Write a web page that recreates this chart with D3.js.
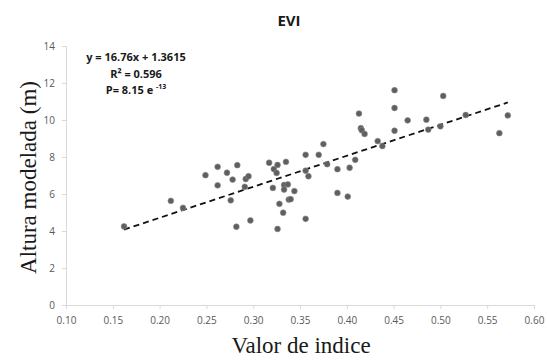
<!DOCTYPE html>
<html>
<head>
<meta charset="utf-8">
<script src="https://cdn.jsdelivr.net/npm/d3@7"></script>
<style>
  body { margin: 0; background: #fff; }
  svg { display: block; }
</style>
</head>
<body>
<svg id="chart" width="547" height="360"></svg>
<script>
// index values (x) and modelled height (y)
const indexValues = [0.162, 0.212, 0.225, 0.249, 0.262, 0.283, 0.272, 0.278, 0.262, 0.292,
  0.295, 0.291, 0.276, 0.282, 0.297, 0.317, 0.335, 0.326, 0.322, 0.325,
  0.321, 0.333, 0.337, 0.333, 0.344, 0.338, 0.340, 0.328, 0.332, 0.326,
  0.356, 0.356, 0.370, 0.375, 0.356, 0.359, 0.379, 0.390, 0.403, 0.409,
  0.390, 0.401, 0.413, 0.415, 0.416, 0.419, 0.433, 0.438, 0.451, 0.451,
  0.451, 0.465, 0.485, 0.487, 0.500, 0.503, 0.527, 0.572, 0.563];
const heights = [4.25, 5.63, 5.25, 7.02, 7.47, 7.56, 7.15, 6.78, 6.47, 6.81,
  6.96, 6.39, 5.66, 4.23, 4.57, 7.69, 7.74, 7.57, 7.35, 7.14,
  6.33, 6.49, 6.52, 6.24, 6.16, 5.70, 5.72, 5.47, 4.99, 4.11,
  4.66, 8.12, 8.12, 8.70, 7.26, 6.96, 7.61, 7.34, 7.42, 7.85,
  6.06, 5.86, 10.35, 9.56, 9.45, 9.25, 8.86, 8.59, 11.61, 10.65,
  9.42, 9.98, 10.02, 9.48, 9.66, 11.30, 10.27, 10.25, 9.29];

const xTicks = [0.10, 0.15, 0.20, 0.25, 0.30, 0.35, 0.40, 0.45, 0.50, 0.55, 0.60];
const yTicks = [0, 2, 4, 6, 8, 10, 12, 14];

const slope = 16.76, intercept = 1.3615;
const statLines = ["y = 16.76x + 1.3615", "R² = 0.596", "P= 8.15 e "];

const svg = d3.select("#chart");
const margin = { left: 66, right: 13, top: 46, bottom: 55 };
const width = 547, height = 360;

const x = d3.scaleLinear().domain([0.10, 0.60]).range([margin.left, width - margin.right]);
const y = d3.scaleLinear().domain([0, 14]).range([height - margin.bottom, margin.top]);

const axisColor = "#d9d9d9";
const labelColor = "#595959";

// x axis
const gx = svg.append("g")
  .attr("transform", "translate(0," + y(0) + ")")
  .call(d3.axisBottom(x).tickValues(xTicks).tickFormat(d3.format(".2f")).tickSize(4).tickPadding(8));
gx.select(".domain").attr("stroke", axisColor);
gx.selectAll(".tick line").attr("stroke", axisColor);
gx.selectAll("text").attr("fill", labelColor).style("font-family", "'Open Sans', sans-serif").style("font-size", "10px");

// y axis
const gy = svg.append("g")
  .attr("transform", "translate(" + x(0.10) + ",0)")
  .call(d3.axisLeft(y).tickValues(yTicks).tickSize(4).tickPadding(7));
gy.select(".domain").attr("stroke", axisColor);
gy.selectAll(".tick line").attr("stroke", axisColor);
gy.selectAll("text").attr("fill", labelColor).style("font-family", "'Open Sans', sans-serif").style("font-size", "10px");

// title
svg.append("text")
  .attr("x", 289).attr("y", 26)
  .attr("text-anchor", "middle")
  .style("font-family", "'Open Sans', sans-serif")
  .style("font-weight", "bold")
  .style("font-size", "15px")
  .attr("fill", "#1a1a1a")
  .text("EVI");

// axis titles
svg.append("text")
  .attr("x", 301).attr("y", 353)
  .attr("text-anchor", "middle")
  .style("font-family", "'Liberation Serif', serif")
  .style("font-size", "23px")
  .attr("fill", "#1a1a1a")
  .text("Valor de indice");

svg.append("text")
  .attr("transform", "translate(36," + (y(7) + 2) + ") rotate(-90)")
  .attr("text-anchor", "middle")
  .style("font-family", "'Liberation Serif', serif")
  .style("font-size", "23px")
  .attr("fill", "#1a1a1a")
  .text("Altura modelada (m)");

// trend line
const xExt = d3.extent(indexValues);
svg.append("line")
  .attr("x1", x(xExt[0])).attr("y1", y(slope * xExt[0] + intercept))
  .attr("x2", x(xExt[1])).attr("y2", y(slope * xExt[1] + intercept))
  .attr("stroke", "#111")
  .attr("stroke-width", 1.8)
  .attr("stroke-dasharray", "6,4");

// points
svg.append("g")
  .selectAll("circle")
  .data(indexValues.map((v, i) => [v, heights[i]]))
  .join("circle")
  .attr("cx", d => x(d[0]))
  .attr("cy", d => y(d[1]))
  .attr("r", 2.9)
  .attr("fill", "#5f5f5f")
  .attr("stroke", "#8a8a8a")
  .attr("stroke-width", 0.6);

// equation box
const stats = svg.append("g")
  .style("font-family", "'Open Sans', sans-serif")
  .style("font-weight", "bold")
  .style("font-size", "11px")
  .attr("fill", "#1a1a1a");

stats.selectAll("text")
  .data(statLines)
  .join("text")
  .attr("x", 136)
  .attr("y", (d, i) => 61 + i * 16.5)
  .attr("text-anchor", "middle")
  .text(d => d)
  .filter((d, i) => i == 2)
  .append("tspan")
  .attr("dy", -5)
  .style("font-size", "7px")
  .text("-13");
</script>
</body>
</html>
